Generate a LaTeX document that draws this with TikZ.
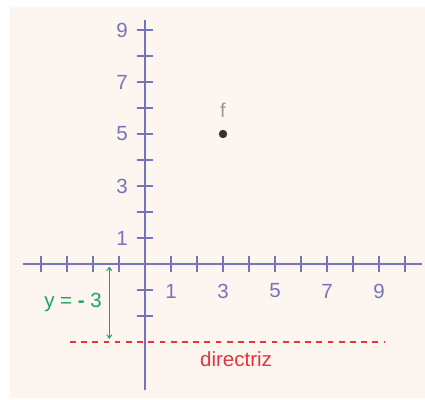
\documentclass[tikz,border=0pt]{standalone}
\usepackage{fontspec}
\setmainfont{Liberation Sans}
\usetikzlibrary{arrows.meta}
\definecolor{bgc}{HTML}{FDF6F0}
\definecolor{axc}{HTML}{7773B8}
\definecolor{grc}{HTML}{1BA65B}
\definecolor{rdc}{HTML}{E8323C}
\definecolor{dotc}{HTML}{333333}
\definecolor{fc}{HTML}{999999}
\tikzset{
  axisline/.style={draw=axc, line width=2.4pt},
  tickline/.style={draw=axc, line width=1.4pt},
  numlbl/.style={text=axc, font=\fontsize{20.5}{23}\selectfont, inner sep=0pt},
  dirline/.style={draw=rdc, line width=2pt, dash pattern=on 5.7pt off 5.5pt},
}
\begin{document}
\begin{tikzpicture}[x=26pt,y=26pt]
\useasboundingbox (-145pt,-135pt) rectangle (280pt,264pt);
\fill[bgc] (-135pt,-134pt) rectangle (280pt,257pt);
% axes
\coordinate (xl) at (-122pt,0);
\coordinate (xr) at (277pt,0);
\coordinate (yb) at (0,-126pt);
\coordinate (yt) at (0,244pt);
\draw[axisline] (xl) -- (xr);
\draw[axisline] (yb) -- (yt);
% ticks
\foreach \i in {-4,-3,-2,-1,1,2,3,4,5,6,7,8,9,10}
  \draw[tickline] (\i,-8pt) -- (\i,8pt);
\foreach \j in {-2,-1,1,2,3,4,5,6,7,8,9}
  \draw[tickline] (-8pt,\j) -- (8pt,\j);
% labels
\foreach \j in {1,3,5,7,9}
  \node[numlbl, anchor=east] (ly\j) at (-17pt,\j) {\j};
\foreach \i in {1,3,5,7,9}
  \node[numlbl] (lx\i) at (\i,-27pt) {\i};
% focus
\fill[dotc] (3,5) circle (4.2pt);
\node[text=fc, font=\fontsize{20}{22}\selectfont, inner sep=0pt] (f) at (3,5.92) {f};
% directrix
\coordinate (dl) at (-75pt,-3);
\coordinate (dr) at (239pt,-3);
\draw[dirline] (dl) -- (dr);
\node[text=rdc, font=\fontsize{20.5}{22}\selectfont, inner sep=0pt, anchor=west] (dlbl) at (55pt,-95pt) {directriz};
% distance arrow
\coordinate (at) at (-35.7pt,-2.5pt);
\coordinate (ab) at (-35.7pt,-75pt);
\draw[grc, line width=1pt, {Straight Barb[length=3.5pt,width=5pt]}-{Straight Barb[length=3.5pt,width=5pt]}] (at) -- (ab);
\node[text=grc, font=\fontsize{20.5}{22}\selectfont, inner sep=0pt, anchor=east] (ylbl) at (-43pt,-38pt) {y = \textbf{-} 3};
\end{tikzpicture}
\end{document}
